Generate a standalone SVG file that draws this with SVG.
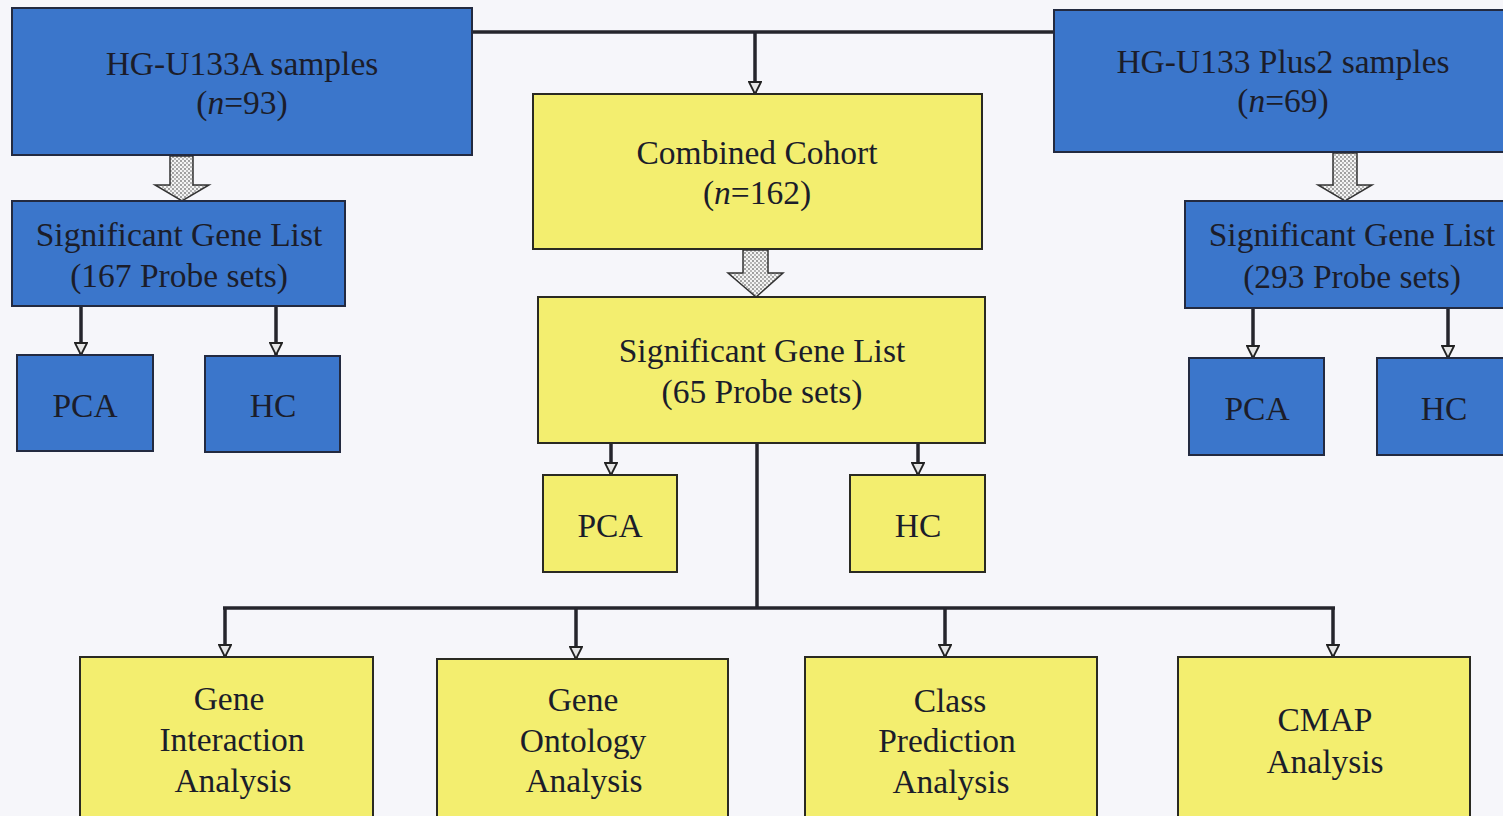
<svg xmlns="http://www.w3.org/2000/svg" width="1503" height="816" viewBox="0 0 1503 816">
<style>
.blue{fill:#3b76cb;stroke:#232a40;stroke-width:2}
.yel{fill:#f3ee6f;stroke:#2a2a22;stroke-width:2}
.t{font-family:"Liberation Serif","Times New Roman",serif;font-size:33.5px;fill:#1b1d2a;text-anchor:middle}
.c{stroke:#25252c;stroke-width:3.5;fill:none}
.ba{fill:url(#dots);stroke:#333;stroke-width:1.5}
</style>
<defs>
<marker id="ah" viewBox="0 0 14 14" refX="13" refY="7" markerWidth="14" markerHeight="14" markerUnits="userSpaceOnUse" orient="auto">
<path d="M1,1 L13,7 L1,13 z" fill="#e6e6e6" stroke="#222" stroke-width="1.8"/>
</marker>
<pattern id="dots" width="4" height="4" patternUnits="userSpaceOnUse">
<rect width="4" height="4" fill="#f4f4f4"/>
<circle cx="1" cy="1" r="0.9" fill="#777"/>
<circle cx="3" cy="3" r="0.9" fill="#999"/>
</pattern>
</defs>
<rect width="1503" height="816" fill="#f6f6fa"/>

<g id="connectors">
<line class="c" x1="472" y1="32" x2="1054" y2="32"/>
<line class="c" x1="755" y1="32" x2="755" y2="94" marker-end="url(#ah)"/>
<line class="c" x1="81" y1="306" x2="81" y2="355" marker-end="url(#ah)"/>
<line class="c" x1="276" y1="306" x2="276" y2="355" marker-end="url(#ah)"/>
<line class="c" x1="1253" y1="308" x2="1253" y2="358" marker-end="url(#ah)"/>
<line class="c" x1="1448" y1="308" x2="1448" y2="358" marker-end="url(#ah)"/>
<line class="c" x1="611" y1="443" x2="611" y2="475" marker-end="url(#ah)"/>
<line class="c" x1="918" y1="443" x2="918" y2="475" marker-end="url(#ah)"/>
<line class="c" x1="757" y1="443" x2="757" y2="608"/>
<line class="c" x1="223" y1="608" x2="1335" y2="608"/>
<line class="c" x1="225" y1="608" x2="225" y2="657" marker-end="url(#ah)"/>
<line class="c" x1="576" y1="608" x2="576" y2="659" marker-end="url(#ah)"/>
<line class="c" x1="945" y1="608" x2="945" y2="657" marker-end="url(#ah)"/>
<line class="c" x1="1333" y1="608" x2="1333" y2="657" marker-end="url(#ah)"/>
<polygon class="ba" points="170,156 193,156 193,185 209,185 182,201 155,185 170,185"/>
<polygon class="ba" points="743,250 768,250 768,273 783,273 756,297 728,273 743,273"/>
<polygon class="ba" points="1333,153 1357,153 1357,185 1372,185 1345,201 1318,185 1333,185"/>
</g>

<g id="hgu133a">
<rect class="blue" x="12" y="8" width="460" height="147"/>
<text class="t" x="242" y="75">HG-U133A samples</text>
<text class="t" x="242" y="114">(<tspan font-style="italic">n</tspan>=93)</text>
</g>
<g id="hgplus2">
<rect class="blue" x="1054" y="10" width="455" height="142"/>
<text class="t" x="1283" y="73">HG-U133 Plus2 samples</text>
<text class="t" x="1283" y="112">(<tspan font-style="italic">n</tspan>=69)</text>
</g>
<g id="combined">
<rect class="yel" x="533" y="94" width="449" height="155"/>
<text class="t" x="757" y="164">Combined Cohort</text>
<text class="t" x="757" y="204">(<tspan font-style="italic">n</tspan>=162)</text>
</g>
<g id="sig-left">
<rect class="blue" x="12" y="201" width="333" height="105"/>
<text class="t" x="179" y="246">Significant Gene List</text>
<text class="t" x="179" y="287">(167 Probe sets)</text>
</g>
<g id="pca-left">
<rect class="blue" x="17" y="355" width="136" height="96"/>
<text class="t" x="85" y="417">PCA</text>
</g>
<g id="hc-left">
<rect class="blue" x="205" y="356" width="135" height="96"/>
<text class="t" x="273" y="417">HC</text>
</g>
<g id="sig-right">
<rect class="blue" x="1185" y="201" width="325" height="107"/>
<text class="t" x="1352" y="246">Significant Gene List</text>
<text class="t" x="1352" y="288">(293 Probe sets)</text>
</g>
<g id="pca-right">
<rect class="blue" x="1189" y="358" width="135" height="97"/>
<text class="t" x="1257" y="420">PCA</text>
</g>
<g id="hc-right">
<rect class="blue" x="1377" y="358" width="135" height="97"/>
<text class="t" x="1444" y="420">HC</text>
</g>
<g id="sig-center">
<rect class="yel" x="538" y="297" width="447" height="146"/>
<text class="t" x="762" y="362">Significant Gene List</text>
<text class="t" x="762" y="403">(65 Probe sets)</text>
</g>
<g id="pca-center">
<rect class="yel" x="543" y="475" width="134" height="97"/>
<text class="t" x="610" y="537">PCA</text>
</g>
<g id="hc-center">
<rect class="yel" x="850" y="475" width="135" height="97"/>
<text class="t" x="918" y="537">HC</text>
</g>
<g id="gene-interaction">
<rect class="yel" x="80" y="657" width="293" height="170"/>
<text class="t" x="229" y="710">Gene</text>
<text class="t" x="232" y="751">Interaction</text>
<text class="t" x="233" y="792">Analysis</text>
</g>
<g id="gene-ontology">
<rect class="yel" x="437" y="659" width="291" height="170"/>
<text class="t" x="583" y="711">Gene</text>
<text class="t" x="583" y="752">Ontology</text>
<text class="t" x="584" y="792">Analysis</text>
</g>
<g id="class-prediction">
<rect class="yel" x="805" y="657" width="292" height="170"/>
<text class="t" x="950" y="712">Class</text>
<text class="t" x="947" y="752">Prediction</text>
<text class="t" x="951" y="793">Analysis</text>
</g>
<g id="cmap">
<rect class="yel" x="1178" y="657" width="292" height="170"/>
<text class="t" x="1325" y="731">CMAP</text>
<text class="t" x="1325" y="773">Analysis</text>
</g>
</svg>
